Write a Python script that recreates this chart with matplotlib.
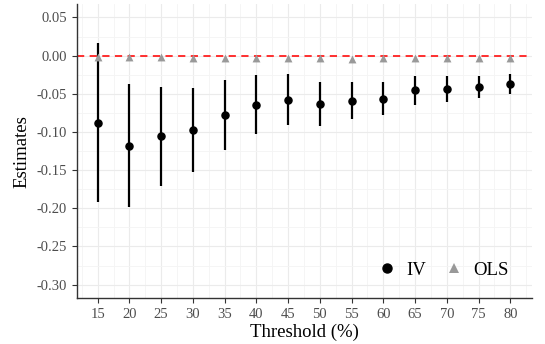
import matplotlib
matplotlib.use("Agg")
import matplotlib.pyplot as plt
from matplotlib.ticker import MultipleLocator
from matplotlib.lines import Line2D

thresholds = [15, 20, 25, 30, 35, 40, 45, 50, 55, 60, 65, 70, 75, 80]
iv_est = [-0.0877, -0.1178, -0.1056, -0.0969, -0.0776, -0.0645, -0.0580,
          -0.0632, -0.0589, -0.0563, -0.0454, -0.0436, -0.0410, -0.0371]
iv_lo = [-0.1915, -0.1985, -0.1710, -0.1518, -0.1234, -0.1030, -0.0912,
         -0.0916, -0.0829, -0.0776, -0.0645, -0.0602, -0.0558, -0.0502]
iv_hi = [0.0160, -0.0370, -0.0406, -0.0423, -0.0318, -0.0258, -0.0244,
         -0.0344, -0.0349, -0.0344, -0.0266, -0.0271, -0.0266, -0.0240]
ols_est = [-0.0015, -0.0020, -0.0022, -0.0025, -0.0030, -0.0030, -0.0030,
           -0.0030, -0.0042, -0.0030, -0.0030, -0.0030, -0.0030, -0.0030]
y_ticks = [0.05, 0.00, -0.05, -0.10, -0.15, -0.20, -0.25, -0.30]

plt.rcParams['font.family'] = ['Liberation Serif', 'DejaVu Serif']

fig = plt.figure(figsize=(5.45, 3.44), dpi=100)
ax = fig.add_axes([0.1407, 0.1337, 0.976 - 0.1407, 0.988 - 0.1337])

ax.set_xlim(11.7, 83.4)
ax.set_ylim(-0.3175, 0.0675)

ax.xaxis.set_minor_locator(MultipleLocator(2.5))
ax.set_xticks(thresholds)
ax.set_yticks(y_ticks)
ax.yaxis.set_minor_locator(MultipleLocator(0.025))
ax.set_yticklabels([f"{v:.2f}".replace("-0.00", "0.00") for v in y_ticks])

ax.grid(True, which='major', color='#ebebeb', linewidth=0.8, zorder=0)
ax.grid(True, which='minor', color='#f4f4f4', linewidth=0.6, zorder=0)
ax.set_axisbelow(True)

for s in ['top', 'right']:
    ax.spines[s].set_visible(False)
for s in ['left', 'bottom']:
    ax.spines[s].set_color('#333333')
    ax.spines[s].set_linewidth(1.0)
ax.tick_params(which='major', length=3.5, width=0.8, color='#333333',
               labelcolor='#4d4d4d', labelsize=10.5)
ax.tick_params(which='minor', length=0)

ax.axhline(0, color='#ff2020', linestyle=(0, (4, 3)), linewidth=1.3, zorder=2)

ax.vlines(thresholds, iv_lo, iv_hi, color='black', linewidth=1.6, zorder=3)
ax.scatter(thresholds, iv_est, s=26, color='black', zorder=4)
ax.scatter(thresholds, ols_est, s=32, marker='^', color='#999999',
           linewidths=0, zorder=3)

ax.set_xlabel('Threshold (%)', fontsize=13.5, labelpad=2)
ax.set_ylabel('Estimates', fontsize=13.5, labelpad=4)

handles = [Line2D([], [], marker='o', linestyle='none', color='black', markersize=6.5),
           Line2D([], [], marker='^', linestyle='none', color='#999999', markersize=7.5,
                  markeredgewidth=0)]
ax.legend(handles, ['IV', 'OLS'], ncol=2, frameon=False, fontsize=13.5,
          loc='center right', bbox_to_anchor=(0.985, 0.095),
          handletextpad=0.4, columnspacing=0.9, handlelength=1.2)

fig.savefig('out.png', dpi=100)
